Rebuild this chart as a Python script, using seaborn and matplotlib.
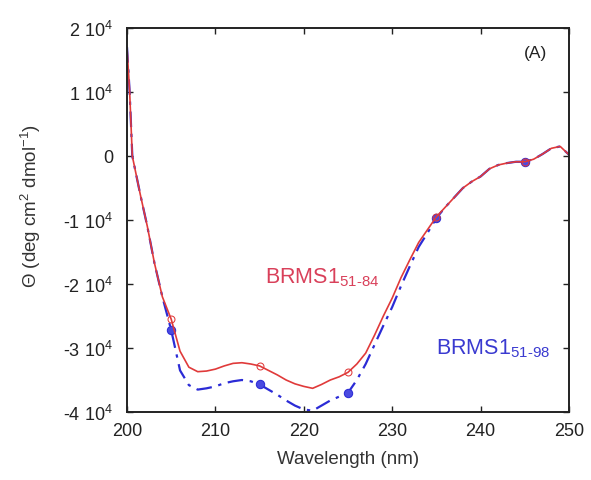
import numpy as np
import pandas as pd
import matplotlib
matplotlib.use("Agg")
import matplotlib.pyplot as plt
import seaborn as sns

wavelength = [200, 200.3, 200.6, 201.5, 202.3, 203.1, 204, 205, 206, 207, 208, 209, 210,
              211, 212, 213, 214, 215, 216, 217, 218, 219, 220, 221, 222, 223, 224, 225,
              226, 227, 228, 229, 230, 231, 232, 233, 234, 235, 236, 237, 238, 239, 240,
              241, 242, 243, 244, 245, 246, 247, 248, 249, 250]
brms1_51_84 = [1.70, 1.00, 0.00, -0.60, -1.10, -1.67, -2.20, -2.55, -3.05, -3.30, -3.37, -3.36, -3.33,
               -3.28, -3.24, -3.23, -3.25, -3.28, -3.35, -3.42, -3.50, -3.56, -3.60, -3.63, -3.57, -3.50, -3.45, -3.38,
               -3.25, -3.08, -2.80, -2.50, -2.22, -1.90, -1.62, -1.35, -1.15, -0.95, -0.80, -0.65, -0.50, -0.40, -0.32,
               -0.20, -0.14, -0.11, -0.09, -0.09, -0.05, 0.03, 0.12, 0.15, 0.02]
brms1_51_98 = [1.70, 1.00, 0.00, -0.60, -1.10, -1.67, -2.20, -2.72, -3.35, -3.58, -3.65, -3.63, -3.60,
               -3.55, -3.52, -3.50, -3.52, -3.57, -3.65, -3.73, -3.82, -3.90, -3.96, -3.98, -3.90, -3.82, -3.76, -3.70,
               -3.50, -3.25, -2.95, -2.65, -2.36, -2.03, -1.72, -1.42, -1.20, -0.97, -0.80, -0.65, -0.50, -0.40, -0.32,
               -0.20, -0.14, -0.11, -0.09, -0.09, -0.05, 0.03, 0.12, 0.15, 0.02]
marker_wavelengths = [205, 215, 225, 235, 245]
x_ticks = [200, 210, 220, 230, 240, 250]
y_ticks = [2e4, 1e4, 0, -1e4, -2e4, -3e4, -4e4]
y_tick_labels = ["2 10$^4$", "1 10$^4$", "0", "-1 10$^4$", "-2 10$^4$", "-3 10$^4$", "-4 10$^4$"]

df = pd.DataFrame({
    "wl": wavelength,
    "r": np.array(brms1_51_84) * 1e4,
    "b": np.array(brms1_51_98) * 1e4,
})
mark_idx = [wavelength.index(w) for w in marker_wavelengths]

sns.set_style("ticks")
plt.rcParams['font.family'] = ['Liberation Sans', 'DejaVu Sans']
plt.rcParams['mathtext.fontset'] = 'custom'
plt.rcParams['mathtext.rm'] = 'Liberation Sans'
plt.rcParams['mathtext.it'] = 'Liberation Sans'
plt.rcParams['mathtext.default'] = 'regular'

fig = plt.figure(figsize=(5.91, 4.81), dpi=100)
ax = fig.add_axes([127/591, 1 - 413/481, (569-127)/591, (413-29)/481])

red = "#e03a3a"
blue = "#2b2bd6"
sns.lineplot(data=df, x="wl", y="b", ax=ax, color=blue, linewidth=1.6,
             linestyle=(0, (7, 3, 1.5, 3)), marker="o", markersize=6, markevery=mark_idx,
             markerfacecolor="#4a4ae0", markeredgecolor=blue, sort=False)
sns.lineplot(data=df, x="wl", y="r", ax=ax, color=red, linewidth=1.2,
             marker="o", markersize=5, markevery=mark_idx,
             markerfacecolor="none", markeredgecolor=red, sort=False)

ax.set_xlim(200, 250)
ax.set_ylim(-4e4, 2e4)
ax.set_xticks(x_ticks)
ax.set_xticklabels([str(t) for t in x_ticks], fontsize=13, color="#222222")
ax.set_yticks(y_ticks)
ax.set_yticklabels(y_tick_labels, fontsize=13, color="#222222")
ax.tick_params(direction="in", top=True, right=True, length=4, width=1, colors="#222222")
ax.tick_params(axis="x", pad=7)
ax.tick_params(axis="y", pad=10)
for s in ax.spines.values():
    s.set_linewidth(1.4)
    s.set_color("#222222")

ax.set_xlabel("Wavelength (nm)", fontsize=13.5, color="#333333", labelpad=8)
ax.set_ylabel("Θ (deg cm$^2$ dmol$^{-1}$)", fontsize=13.5, color="#333333", labelpad=6)
ax.yaxis.set_label_coords(-0.19, 0.54)

ax.text(0.925, 0.935, "(A)", transform=ax.transAxes, fontsize=12.5, ha="center", va="center", color="#222222")
ax.text(215.6, -1.88e4, "BRMS1$_{51\u201184}$", fontsize=15.5, color="#d9405a", ha="left", va="center")
ax.text(234.9, -3.0e4, "BRMS1$_{51\u201198}$", fontsize=15.5, color="#3a3ad0", ha="left", va="center")

fig.savefig("out.png", dpi=100)
